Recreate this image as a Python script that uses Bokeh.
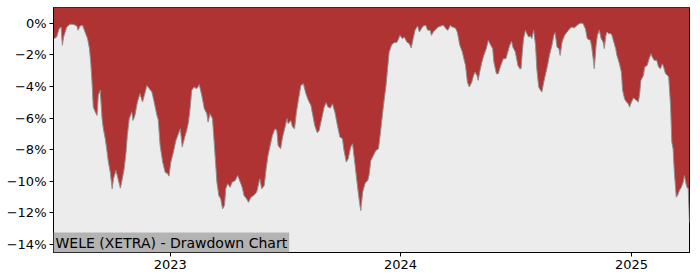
import pandas as pd
from bokeh.plotting import figure
from bokeh.models import (ColumnDataSource, Range1d, FixedTicker, DatetimeTickFormatter,
                          CustomJSTickFormatter, Label)
from bokeh.embed import file_html
from bokeh.resources import INLINE

TITLE = "WELE (XETRA) - Drawdown Chart"

dates = [
    "2022-06-30", "2022-07-01", "2022-07-05", "2022-07-09", "2022-07-12", "2022-07-14", "2022-07-16",
    "2022-07-21", "2022-07-26", "2022-07-31", "2022-08-06", "2022-08-08", "2022-08-11", "2022-08-15",
    "2022-08-19", "2022-08-23", "2022-08-26", "2022-08-28", "2022-08-30", "2022-09-01", "2022-09-04",
    "2022-09-07", "2022-09-09", "2022-09-12", "2022-09-15", "2022-09-17", "2022-09-20", "2022-09-23",
    "2022-09-25", "2022-09-28", "2022-10-01", "2022-10-03", "2022-10-07", "2022-10-11", "2022-10-14",
    "2022-10-16", "2022-10-20", "2022-10-23", "2022-10-25", "2022-10-28", "2022-11-01", "2022-11-03",
    "2022-11-06", "2022-11-10", "2022-11-14", "2022-11-18", "2022-11-21", "2022-11-25", "2022-11-29",
    "2022-12-03", "2022-12-06", "2022-12-11", "2022-12-13", "2022-12-16", "2022-12-20", "2022-12-24",
    "2022-12-28", "2022-12-30", "2023-01-02", "2023-01-06", "2023-01-10", "2023-01-14", "2023-01-17",
    "2023-01-20", "2023-01-24", "2023-01-27", "2023-01-30", "2023-02-02", "2023-02-04", "2023-02-08",
    "2023-02-12", "2023-02-16", "2023-02-20", "2023-02-24", "2023-02-28", "2023-03-02", "2023-03-05",
    "2023-03-09", "2023-03-12", "2023-03-16", "2023-03-19", "2023-03-22", "2023-03-25", "2023-03-28",
    "2023-03-30", "2023-04-02", "2023-04-06", "2023-04-09", "2023-04-14", "2023-04-18", "2023-04-22",
    "2023-04-25", "2023-04-28", "2023-05-02", "2023-05-05", "2023-05-09", "2023-05-13", "2023-05-18",
    "2023-05-23", "2023-05-26", "2023-05-30", "2023-06-02", "2023-06-05", "2023-06-09", "2023-06-12",
    "2023-06-16", "2023-06-19", "2023-06-21", "2023-06-25", "2023-06-28", "2023-07-02", "2023-07-05",
    "2023-07-07", "2023-07-11", "2023-07-14", "2023-07-17", "2023-07-20", "2023-07-23", "2023-07-27",
    "2023-07-31", "2023-08-04", "2023-08-08", "2023-08-12", "2023-08-15", "2023-08-18", "2023-08-22",
    "2023-08-25", "2023-08-29", "2023-09-02", "2023-09-05", "2023-09-08", "2023-09-12", "2023-09-15",
    "2023-09-19", "2023-09-23", "2023-09-27", "2023-10-01", "2023-10-03", "2023-10-07", "2023-10-10",
    "2023-10-14", "2023-10-17", "2023-10-21", "2023-10-25", "2023-10-28", "2023-10-30", "2023-11-02",
    "2023-11-06", "2023-11-10", "2023-11-12", "2023-11-15", "2023-11-19", "2023-11-23", "2023-11-27",
    "2023-11-30", "2023-12-02", "2023-12-05", "2023-12-09", "2023-12-12", "2023-12-14", "2023-12-18",
    "2023-12-22", "2023-12-26", "2023-12-29", "2023-12-31", "2024-01-04", "2024-01-07", "2024-01-11",
    "2024-01-15", "2024-01-18", "2024-01-21", "2024-01-24", "2024-01-28", "2024-01-31", "2024-02-03",
    "2024-02-06", "2024-02-10", "2024-02-13", "2024-02-17", "2024-02-19", "2024-02-22", "2024-02-26",
    "2024-03-01", "2024-03-05", "2024-03-09", "2024-03-13", "2024-03-16", "2024-03-20", "2024-03-23",
    "2024-03-28", "2024-03-31", "2024-04-04", "2024-04-08", "2024-04-11", "2024-04-13", "2024-04-16",
    "2024-04-19", "2024-04-23", "2024-04-25", "2024-04-28", "2024-05-01", "2024-05-03", "2024-05-06",
    "2024-05-09", "2024-05-12", "2024-05-16", "2024-05-19", "2024-05-23", "2024-05-26", "2024-05-28",
    "2024-06-01", "2024-06-04", "2024-06-07", "2024-06-10", "2024-06-12", "2024-06-16", "2024-06-19",
    "2024-06-22", "2024-06-25", "2024-06-27", "2024-07-01", "2024-07-05", "2024-07-08", "2024-07-10",
    "2024-07-12", "2024-07-14", "2024-07-17", "2024-07-19", "2024-07-22", "2024-07-25", "2024-07-27",
    "2024-07-30", "2024-08-02", "2024-08-04", "2024-08-07", "2024-08-10", "2024-08-12", "2024-08-15",
    "2024-08-18", "2024-08-21", "2024-08-24", "2024-08-28", "2024-08-31", "2024-09-02", "2024-09-05",
    "2024-09-08", "2024-09-10", "2024-09-13", "2024-09-17", "2024-09-21", "2024-09-25", "2024-09-29",
    "2024-10-02", "2024-10-07", "2024-10-11", "2024-10-12", "2024-10-16", "2024-10-20", "2024-10-23",
    "2024-10-28", "2024-10-30", "2024-11-02", "2024-11-03", "2024-11-06", "2024-11-08", "2024-11-11",
    "2024-11-14", "2024-11-17", "2024-11-19", "2024-11-21", "2024-11-23", "2024-11-26", "2024-11-29",
    "2024-12-01", "2024-12-04", "2024-12-07", "2024-12-09", "2024-12-13", "2024-12-16", "2024-12-18",
    "2024-12-21", "2024-12-24", "2024-12-27", "2024-12-29", "2025-01-01", "2025-01-04", "2025-01-06",
    "2025-01-09", "2025-01-12", "2025-01-14", "2025-01-16", "2025-01-20", "2025-01-22", "2025-01-26",
    "2025-01-29", "2025-02-01", "2025-02-03", "2025-02-06", "2025-02-10", "2025-02-13", "2025-02-16",
    "2025-02-19", "2025-02-21", "2025-02-24", "2025-02-27", "2025-03-01", "2025-03-04", "2025-03-06",
    "2025-03-08", "2025-03-10", "2025-03-13", "2025-03-15", "2025-03-18", "2025-03-21", "2025-03-24",
    "2025-03-26", "2025-03-28", "2025-03-30", "2025-04-01", "2025-04-03",
]

drawdown = [
    -1.00, -0.97, -0.87, -0.34, -0.23, -1.39, -0.87,
    -0.23, -0.06, -0.06, -0.17, -0.44, -0.17, -0.13,
    -0.55, -0.97, -1.60, -2.45, -3.70, -5.30, -5.60,
    -5.83, -4.56, -4.24, -6.04, -6.67, -7.30, -8.15,
    -8.78, -9.42, -10.47, -9.84, -9.31, -9.95, -10.43,
    -10.05, -9.20, -8.15, -7.10, -6.04, -5.60, -6.15,
    -5.83, -4.98, -4.45, -4.98, -4.56, -3.93, -4.14,
    -4.35, -4.88, -5.83, -6.10, -7.73, -8.78, -9.42,
    -9.52, -9.67, -8.78, -8.15, -7.41, -6.99, -6.67,
    -7.83, -7.20, -6.78, -6.25, -5.19, -4.24, -4.03,
    -4.14, -3.88, -4.56, -5.40, -5.72, -6.25, -5.72,
    -6.04, -7.73, -10.05, -10.90, -11.10, -11.74, -11.53,
    -10.47, -10.15, -10.37, -10.05, -9.95, -9.63, -10.05,
    -10.37, -10.90, -11.10, -11.32, -11.00, -10.90, -10.68,
    -9.84, -10.47, -10.26, -9.20, -8.36, -7.62, -7.10,
    -6.67, -6.78, -7.73, -7.94, -7.20, -6.57, -6.04,
    -6.35, -6.15, -6.57, -6.67, -5.62, -4.88, -3.93,
    -3.82, -4.45, -4.88, -5.19, -5.83, -6.46, -6.92,
    -6.78, -6.04, -5.30, -5.02, -5.30, -5.36, -5.09,
    -5.62, -6.46, -7.20, -7.30, -7.94, -8.78, -8.57,
    -7.83, -7.62, -8.99, -10.37, -11.32, -11.85, -10.68,
    -10.10, -9.95, -9.63, -8.68, -8.36, -8.04, -7.94,
    -6.99, -6.25, -5.19, -3.93, -2.66, -1.82, -1.35,
    -1.22, -1.22, -0.97, -0.76, -0.97, -0.87, -1.18,
    -1.29, -1.56, -0.97, -0.44, -0.17, -0.55, -0.34,
    -0.17, -0.13, -0.44, -0.44, -0.76, -0.55, -0.38,
    -0.23, -0.17, -0.13, -0.34, -0.44, -0.13, -0.23,
    -0.30, -0.55, -1.39, -1.82, -2.34, -2.66, -3.72,
    -4.03, -3.72, -3.40, -3.08, -3.29, -3.61, -2.98,
    -2.45, -2.03, -1.60, -1.08, -1.39, -1.60, -2.45,
    -3.19, -3.19, -2.77, -2.45, -2.24, -2.24, -1.82,
    -1.39, -1.14, -1.50, -1.82, -2.66, -2.87, -2.87,
    -1.82, -0.97, -0.44, -0.65, -0.87, -0.80, -0.97,
    -0.44, -1.39, -2.87, -4.03, -4.24, -4.35, -3.72,
    -3.19, -2.66, -2.03, -1.39, -0.76, -0.59, -1.50,
    -1.60, -2.03, -1.18, -0.76, -0.55, -0.34, -0.23,
    -0.30, -0.13, 0.00, 0.00, 0.00, -0.34, -0.97,
    -1.08, -1.50, -2.45, -2.87, -1.39, -0.76, -0.44,
    -0.97, -1.18, -1.60, -0.87, -0.55, -0.65, -0.65,
    -0.76, -1.18, -1.60, -2.03, -2.56, -3.08, -4.24,
    -4.77, -4.98, -5.09, -5.30, -4.98, -4.73, -4.77,
    -4.88, -4.98, -4.45, -3.61, -3.29, -2.77, -2.66,
    -2.24, -1.92, -2.13, -2.34, -2.34, -2.77, -2.87,
    -2.56, -2.77, -3.19, -3.29, -3.40, -5.19, -7.52,
    -7.94, -9.42, -11.00, -10.90, -10.58, -10.37, -10.05,
    -9.63, -10.05, -10.37, -10.47, -12.60,
]

y_ticks = [0, -2, -4, -6, -8, -10, -12, -14]
x_ticks = ["2023-01-01", "2024-01-01", "2025-01-01"]
Y_MIN, Y_MAX = -14.5, 1.0

FONT = "DejaVu Sans"

dt = pd.to_datetime(dates)
src = ColumnDataSource(dict(date=dt, dd=drawdown, top=[Y_MAX + 1.0] * len(drawdown)))

p = figure(width=700, height=280, output_backend="svg", toolbar_location=None,
           x_axis_type="datetime",
           x_range=Range1d(dt[0], dt[-1]), y_range=Range1d(Y_MIN, Y_MAX),
           min_border_left=53, min_border_right=11, min_border_top=7, min_border_bottom=28)

p.background_fill_color = "#ececec"
p.border_fill_color = "white"
p.outline_line_color = "black"
p.outline_line_width = 1
p.grid.visible = False

p.varea(x="date", y1="dd", y2="top", source=src, fill_color="#b03333")
p.line(x="date", y="dd", source=src, line_color="#8f8f8f", line_width=1)

ticks_ms = [pd.Timestamp(t).value / 1e6 for t in x_ticks]
p.xaxis.ticker = FixedTicker(ticks=ticks_ms)
p.xaxis.formatter = DatetimeTickFormatter(years="%Y", months="%Y", days="%Y", hours="%Y",
                                          hourmin="%Y", minutes="%Y", minsec="%Y",
                                          seconds="%Y", milliseconds="%Y", microseconds="%Y")
p.yaxis.ticker = FixedTicker(ticks=y_ticks)
p.yaxis.formatter = CustomJSTickFormatter(code="""
    return (tick < 0 ? "\\u2212" + Math.abs(tick) : String(tick)) + "%";
""")

for ax in (p.xaxis, p.yaxis):
    ax.axis_line_color = "black"
    ax.major_tick_line_color = "black"
    ax.major_tick_in = 0
    ax.major_tick_out = 4
    ax.minor_tick_line_color = None
    ax.major_label_text_font = FONT
    ax.major_label_text_font_size = "13px"
    ax.major_label_text_color = "black"
    ax.major_label_standoff = 3

lab = Label(x=0, y=0, x_units="screen", y_units="screen", text=TITLE,
            text_font=FONT, text_font_size="14px", text_color="black",
            background_fill_color="#b3b3b3", background_fill_alpha=1.0,
            padding=2)
p.add_layout(lab)

open("out.html", "w").write(file_html(p, INLINE))
